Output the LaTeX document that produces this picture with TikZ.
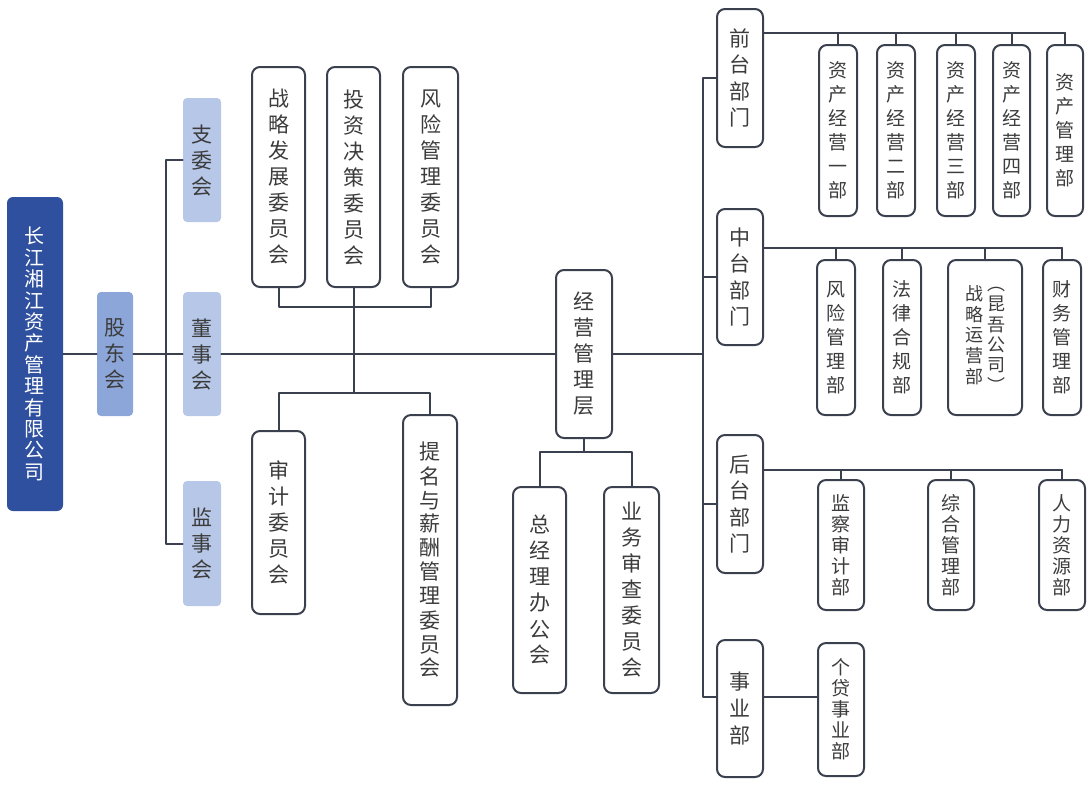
\documentclass[tikz,border=0pt]{standalone}
\usepackage{fontspec}
\setmainfont{Noto Sans CJK SC}
\definecolor{deepblue}{RGB}{46,80,158}
\definecolor{midblue}{RGB}{140,166,218}
\definecolor{paleblue}{RGB}{182,199,232}
\definecolor{linegray}{RGB}{58,64,78}
\definecolor{textgray}{RGB}{60,60,60}
% box from (x1,y1) to (x2,y2) in pixels
\newcommand\bx[7]{\node[#6,minimum width={(#4-#2)*0.5pt},minimum height={(#5-#3)*0.5pt}] (#1) at ({(#2+#4)/2},{(#3+#5)/2}) {#7};}
\newcommand\vst[1]{\begin{tabular}[c]{@{}c@{}}#1\end{tabular}}
\begin{document}
\begin{tikzpicture}[x=0.5pt, y=-0.5pt, line join=round, line cap=round]
	\tikzset{
		wbox/.style={draw=linegray, line width=1pt, rounded corners=4pt, fill=white, align=center, inner sep=0pt, text=textgray, font=\fontsize{10.5}{13}\selectfont},
		sbox/.style={wbox, font=\fontsize{9.5}{12}\selectfont},
		tbox/.style={wbox, font=\fontsize{9.5}{10.5}\selectfont},
		litebox/.style={fill=paleblue, rounded corners=2pt, align=center, inner sep=0pt, text=textgray, font=\fontsize{10.5}{13}\selectfont},
		midbox/.style={litebox, fill=midblue},
		corp/.style={fill=deepblue, rounded corners=3pt, align=center, inner sep=0pt, text=white, font=\fontsize{10}{10.7}\selectfont},
		link/.style={draw=linegray, line width=1pt}
	}
	\useasboundingbox (0,0) rectangle (1092,784);
	% left part
	\bx{gs}{7}{197}{63}{511}{corp}{长\\江\\湘\\江\\资\\产\\管\\理\\有\\限\\公\\司}
	\bx{gdh}{97}{292}{133}{416}{midbox}{股\\东\\会}
	\bx{zwh}{183}{98}{221}{222}{litebox}{支\\委\\会}
	\bx{dsh}{183}{292}{221}{416}{litebox}{董\\事\\会}
	\bx{jsh}{183}{481}{221}{606}{litebox}{监\\事\\会}
	% committees
	\bx{zlfz}{252}{67}{305}{287}{wbox}{战\\略\\发\\展\\委\\员\\会}
	\bx{tzjc}{327}{67}{380}{287}{wbox}{投\\资\\决\\策\\委\\员\\会}
	\bx{fxgl}{403}{67}{458}{287}{wbox}{风\\险\\管\\理\\委\\员\\会}
	\bx{sjwy}{252}{431}{305}{614}{wbox}{审\\计\\委\\员\\会}
	\bx{tmxc}{403}{415}{457}{705}{wbox,font=\fontsize{10.5}{12}\selectfont}{提\\名\\与\\薪\\酬\\管\\理\\委\\员\\会}
	% management
	\bx{jygl}{556}{270}{612}{438}{wbox}{经\\营\\管\\理\\层}
	\bx{zjlb}{513}{487}{566}{693}{wbox}{总\\经\\理\\办\\公\\会}
	\bx{ywsc}{604}{487}{659}{693}{wbox}{业\\务\\审\\查\\委\\员\\会}
	% departments
	\bx{qtbm}{717}{9}{763}{147}{wbox,font=\fontsize{10.5}{13.3}\selectfont}{前\\台\\部\\门}
	\bx{ztbm}{717}{209}{763}{345}{wbox,font=\fontsize{10.5}{13.3}\selectfont}{中\\台\\部\\门}
	\bx{htbm}{717}{435}{763}{573}{wbox,font=\fontsize{10.5}{13.3}\selectfont}{后\\台\\部\\门}
	\bx{sybu}{717}{640}{763}{777}{wbox,font=\fontsize{10.5}{13.3}\selectfont}{事\\业\\部}
	\bx{zy1}{819}{45}{857}{216}{sbox}{资\\产\\经\\营\\一\\部}
	\bx{zy2}{877}{45}{915}{216}{sbox}{资\\产\\经\\营\\二\\部}
	\bx{zy3}{937}{45}{975}{216}{sbox}{资\\产\\经\\营\\三\\部}
	\bx{zy4}{993}{45}{1030}{216}{sbox}{资\\产\\经\\营\\四\\部}
	\bx{zcgl}{1047}{45}{1083}{216}{sbox}{资\\产\\管\\理\\部}
	\bx{fxb}{817}{260}{855}{415}{sbox}{风\\险\\管\\理\\部}
	\bx{flhg}{883}{260}{921}{415}{sbox}{法\\律\\合\\规\\部}
	\bx{zlyy}{948}{260}{1022}{415}{sbox,font=\fontsize{9}{10}\selectfont}{\vst{战\\略\\运\\营\\部}\hspace{2pt}\vst{︵\\昆\\吾\\公\\司\\︶}}
	\bx{cwgl}{1043}{260}{1081}{415}{sbox}{财\\务\\管\\理\\部}
	\bx{jcsj}{818}{480}{864}{610}{tbox}{监\\察\\审\\计\\部}
	\bx{zhgl}{928}{480}{974}{610}{tbox}{综\\合\\管\\理\\部}
	\bx{rlzy}{1039}{480}{1085}{610}{tbox}{人\\力\\资\\源\\部}
	\bx{gdsy}{818}{643}{864}{776}{tbox}{个\\贷\\事\\业\\部}
	% connectors
	\coordinate (lbar) at (166,354);
	\draw[link] (gs.east) -- (gdh.west);
	\draw[link] (gdh.east) -- (lbar);
	\draw[link] (zwh.west) -| (lbar) |- (jsh.west);
	\draw[link] (lbar) -- (dsh.west);
	\draw[link] (dsh.east) -- (jygl.west);
	\coordinate (tjoin) at (353.5,307);
	\coordinate (bjoin) at (353.5,393);
	\draw[link] (zlfz.south) |- (tjoin) -| (fxgl.south);
	\draw[link] (tzjc.south) -- (bjoin);
	\draw[link] (sjwy.north) |- (bjoin) -| (tmxc.north);
	\coordinate (mjoin) at (584,452);
	\draw[link] (jygl.south) -- (mjoin);
	\draw[link] (zjlb.north) |- (mjoin) -| (ywsc.north);
	\coordinate (rbar) at (703,354);
	\coordinate (sybar) at (703,697);
	\draw[link] (jygl.east) -- (rbar);
	\draw[link] (qtbm.west) -| (rbar) -- (sybar) -- (sybar -| sybu.west);
	\draw[link] (ztbm.west) -- (ztbm.west -| rbar);
	\draw[link] (htbm.west) -- (htbm.west -| rbar);
	\draw[link] (sybar -| sybu.east) -- (sybar -| gdsy.west);
	\coordinate (qline) at (0,33);
	\coordinate (zline) at (0,248);
	\coordinate (hline) at (0,470);
	\draw[link] (qtbm.east |- qline) -- (zcgl.north |- qline);
	\foreach \n in {zy1,zy2,zy3,zy4,zcgl} \draw[link] (\n.north) -- (\n.north |- qline);
	\draw[link] (ztbm.east |- zline) -- (cwgl.north |- zline);
	\foreach \n in {fxb,flhg,zlyy,cwgl} \draw[link] (\n.north) -- (\n.north |- zline);
	\draw[link] (htbm.east |- hline) -- (rlzy.north |- hline);
	\foreach \n in {jcsj,zhgl,rlzy} \draw[link] (\n.north) -- (\n.north |- hline);
\end{tikzpicture}
\end{document}
